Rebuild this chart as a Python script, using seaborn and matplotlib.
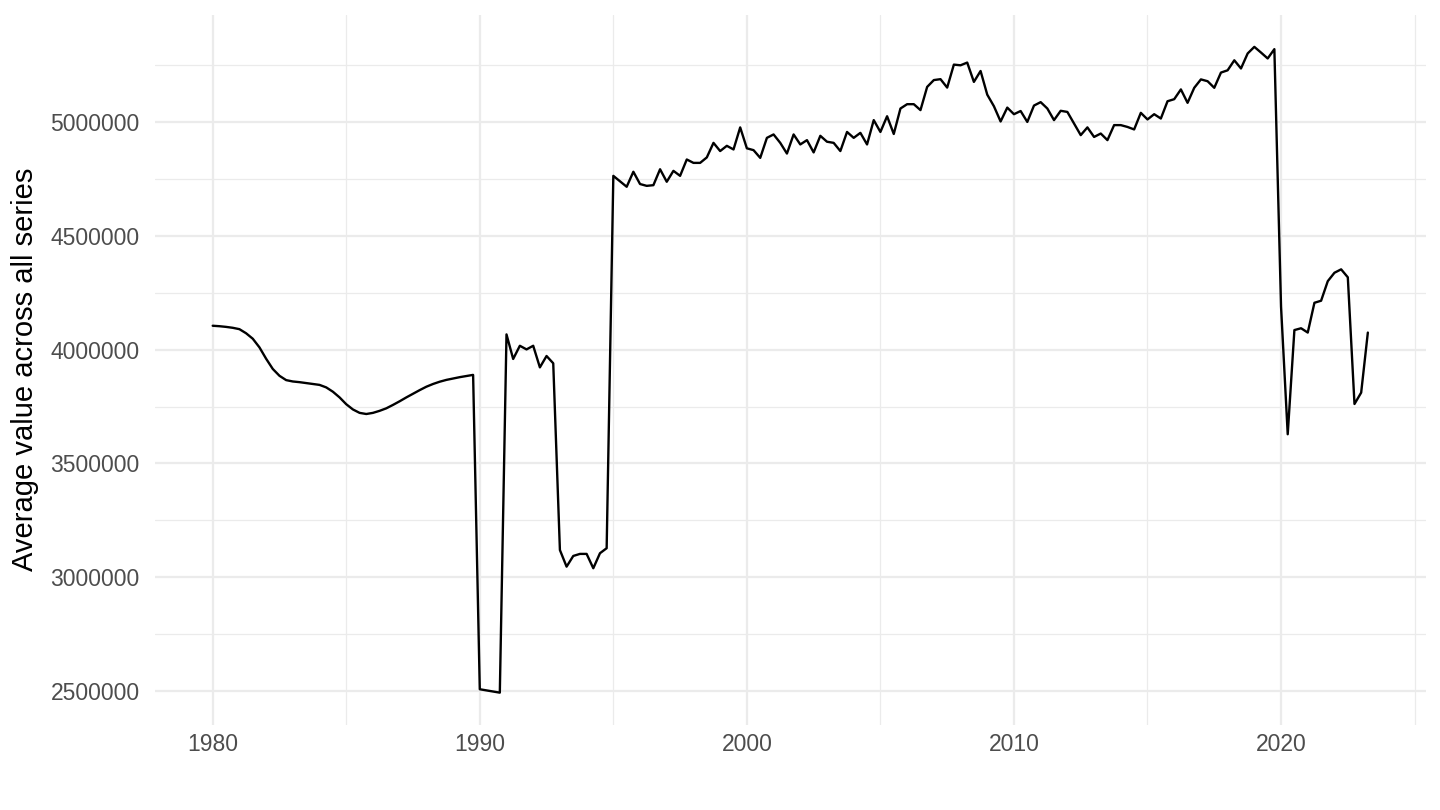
import numpy as np
import pandas as pd
import matplotlib
matplotlib.use("Agg")
import matplotlib.pyplot as plt
import matplotlib.ticker as mticker
import seaborn as sns

# Quarterly values, 1980 Q1 .. 2023 Q2
v1980s = [4105000, 4103000, 4100000, 4096000,
          4090000, 4072000, 4048000, 4010000,
          3960000, 3915000, 3885000, 3866000,
          3860000, 3857000, 3853000, 3849000,
          3845000, 3834000, 3815000, 3790000,
          3760000, 3737000, 3722000, 3717000,
          3722000, 3731000, 3742000, 3757000,
          3773000, 3790000, 3806000, 3822000,
          3837000, 3849000, 3859000, 3867000,
          3873000, 3879000, 3884000, 3889000]
v1990s = [2507000, 2502000, 2497000, 2492000,
          4067000, 3959000, 4017000, 4001000,
          4017000, 3922000, 3972000, 3940000,
          3119000, 3046000, 3093000, 3102000,
          3102000, 3039000, 3105000, 3127000,
          4764000, 4740000, 4716000, 4782000,
          4728000, 4720000, 4723000, 4793000,
          4738000, 4786000, 4764000, 4836000,
          4821000, 4821000, 4845000, 4909000,
          4873000, 4896000, 4880000, 4977000]
v2000s = [4885000, 4877000, 4843000, 4931000,
          4946000, 4909000, 4862000, 4946000,
          4902000, 4921000, 4867000, 4940000,
          4914000, 4909000, 4873000, 4957000,
          4931000, 4953000, 4902000, 5009000,
          4957000, 5026000, 4948000, 5060000,
          5079000, 5079000, 5053000, 5155000,
          5185000, 5189000, 5152000, 5253000,
          5250000, 5262000, 5177000, 5225000,
          5121000, 5070000, 5003000, 5064000]
v2010s = [5035000, 5049000, 5001000, 5073000,
          5088000, 5060000, 5009000, 5050000,
          5045000, 4994000, 4943000, 4977000,
          4935000, 4950000, 4921000, 4987000,
          4987000, 4979000, 4968000, 5041000,
          5012000, 5035000, 5016000, 5092000,
          5101000, 5144000, 5085000, 5151000,
          5188000, 5180000, 5151000, 5218000,
          5228000, 5272000, 5236000, 5302000,
          5331000, 5306000, 5280000, 5321000]
v2020s = [4189000, 3628000, 4086000, 4094000,
          4075000, 4206000, 4215000, 4301000,
          4338000, 4353000, 4318000, 3761000,
          3811000, 4075000]

values = v1980s + v1990s + v2000s + v2010s + v2020s
years = 1980 + np.arange(len(values)) * 0.25

x_ticks = [1980, 1990, 2000, 2010, 2020]
y_ticks = [2500000, 3000000, 3500000, 4000000, 4500000, 5000000]
y_label = "Average value across all series"

df = pd.DataFrame({"year": years, "value": values})

sns.set_theme(style="white")
plt.rcParams["font.family"] = ["Liberation Sans", "DejaVu Sans"]

fig = plt.figure(figsize=(14.4, 8.1), dpi=100)
ax = fig.add_axes([0.1076, 0.105, 0.8824, 0.877])

sns.lineplot(data=df, x="year", y="value", color="black", linewidth=1.7, ax=ax)

xr = years.max() - years.min()
ax.set_xlim(years.min() - 0.05 * xr, years.max() + 0.05 * xr)
vmin, vmax = min(values), max(values)
yr = vmax - vmin
ax.set_ylim(vmin - 0.05 * yr, vmax + 0.05 * yr)

ax.set_xticks(x_ticks)
ax.set_xticks([1985, 1995, 2005, 2015, 2025], minor=True)
ax.set_yticks(y_ticks)
ax.set_yticks([2750000, 3250000, 3750000, 4250000, 4750000, 5250000], minor=True)
ax.yaxis.set_major_formatter(mticker.FuncFormatter(lambda v, p: f"{int(round(v))}"))
ax.xaxis.set_major_formatter(mticker.FuncFormatter(lambda v, p: f"{int(round(v))}"))

ax.grid(which="major", color="#EBEBEB", linewidth=1.6)
ax.grid(which="minor", color="#EBEBEB", linewidth=0.9)
ax.set_axisbelow(True)
for s in ax.spines.values():
    s.set_visible(False)

ax.tick_params(axis="both", which="both", length=0, labelsize=16.5, labelcolor="#4D4D4D")
ax.tick_params(axis="y", pad=11)
ax.tick_params(axis="x", pad=6)
ax.set_xlabel("")
ax.set_ylabel(y_label, fontsize=21, color="black", labelpad=8)

fig.savefig("out.png", dpi=100)
